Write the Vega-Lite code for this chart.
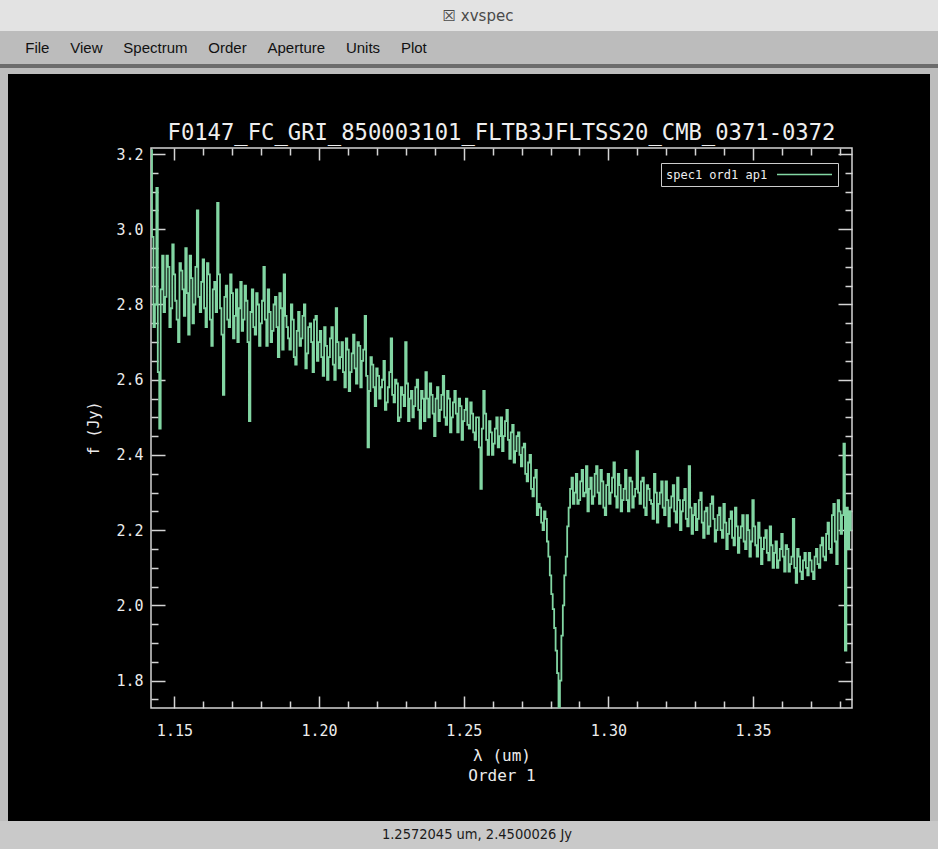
{
  "$schema": "https://vega.github.io/schema/vega-lite/v6.json",
  "background": "#000000",
  "padding": 0,
  "spacing": 0,
  "bounds": "full",
  "resolve": {"scale": {"color": "independent"}, "legend": {"color": "independent"}},
  "config": {
    "view": {"stroke": null},
    "concat": {"spacing": 0},
    "axis": {
      "domain": false,
      "grid": false,
      "tickColor": "#d4d4d4",
      "tickWidth": 1.5,
      "labelColor": "#ececec",
      "labelFont": "DejaVu Sans Mono",
      "labelFontSize": 15,
      "labelFlush": false,
      "labelOverlap": false,
      "labelBound": false,
      "titleColor": "#ececec",
      "titleFont": "DejaVu Sans Mono",
      "titleFontSize": 16,
      "titleFontWeight": "normal"
    }
  },
  "vconcat": [
    {
      "spacing": 0,
      "hconcat": [
        {"width": 18, "height": 31, "view": {"fill": "#e3e3e3"}, "data": {"values": []}, "mark": "rect"},
        {
          "width": 920, "height": 31,
          "view": {"fill": "#e3e3e3"},
          "data": {"values": [{"t": "☒ xvspec"}]},
          "mark": {"type": "text", "font": "DejaVu Sans", "fontSize": 15, "color": "#4a4a4a"},
          "encoding": {"text": {"field": "t", "type": "nominal"}}
        }
      ]
    },
    {
      "spacing": 0,
      "hconcat": [
        {
          "width": 452, "height": 33,
          "view": {"fill": "#bcbcbc"},
          "data": {"values": [{"t": "File\u00a0\u00a0\u00a0\u00a0\u00a0View\u00a0\u00a0\u00a0\u00a0\u00a0Spectrum\u00a0\u00a0\u00a0\u00a0\u00a0Order\u00a0\u00a0\u00a0\u00a0\u00a0Aperture\u00a0\u00a0\u00a0\u00a0\u00a0Units\u00a0\u00a0\u00a0\u00a0\u00a0Plot"}]},
          "mark": {"type": "text", "font": "Liberation Sans", "fontSize": 15, "color": "#111111"},
          "encoding": {"text": {"field": "t", "type": "nominal"}}
        },
        {"width": 486, "height": 33, "view": {"fill": "#bcbcbc"}, "data": {"values": []}, "mark": "rect"}
      ]
    },
    {"width": 938, "height": 4, "view": {"fill": "#6c6c6c"}, "data": {"values": []}, "mark": "rect"},
    {"width": 938, "height": 6, "view": {"fill": "#bdbdbd"}, "data": {"values": []}, "mark": "rect"},
    {
      "columns": 5,
      "bounds": "flush",
      "spacing": 0,
      "resolve": {"scale": {"color": "independent"}, "legend": {"color": "independent"}},
      "concat": [
        {"width": 8, "height": 74, "view": {"fill": "#bdbdbd"}, "data": {"values": []}, "mark": "rect"},
        {"width": 143, "height": 74, "data": {"values": []}, "mark": "rect"},
        {"width": 701, "height": 74, "data": {"values": []}, "mark": "rect"},
        {"width": 78, "height": 74, "data": {"values": []}, "mark": "rect"},
        {"width": 8, "height": 74, "view": {"fill": "#bdbdbd"}, "data": {"values": []}, "mark": "rect"},
        {"width": 8, "height": 560, "view": {"fill": "#bdbdbd"}, "data": {"values": []}, "mark": "rect"},
        {"width": 143, "height": 560, "data": {"values": []}, "mark": "rect"},
        {
          "width": 701, "height": 560,
          "view": {"stroke": "#d4d4d4", "strokeWidth": 1.5},
          "title": {
            "text": "F0147_FC_GRI_850003101_FLTB3JFLTSS20_CMB_0371-0372",
            "font": "DejaVu Sans Mono", "fontSize": 22.2, "fontWeight": "normal", "color": "#eeeeee",
            "anchor": "middle", "frame": "group", "offset": -15, "baseline": "alphabetic"
          },
          "data": {"values": [
{"w":1.142,"f":3.21},{"w":1.1425,"f":2.98},{"w":1.143,"f":2.74},{"w":1.1435,"f":2.80},{"w":1.144,"f":3.11},{"w":1.1445,"f":2.62},{"w":1.145,"f":2.47},{"w":1.1455,"f":2.84},{"w":1.146,"f":2.93},{"w":1.1465,"f":2.78},
{"w":1.147,"f":2.82},{"w":1.1475,"f":2.93},{"w":1.148,"f":2.90},{"w":1.1485,"f":2.74},{"w":1.149,"f":2.79},{"w":1.1495,"f":2.96},{"w":1.150,"f":2.88},{"w":1.1505,"f":2.81},{"w":1.151,"f":2.76},{"w":1.1515,"f":2.70},
{"w":1.152,"f":2.91},{"w":1.1525,"f":2.89},{"w":1.153,"f":2.84},{"w":1.1535,"f":2.77},{"w":1.154,"f":2.95},{"w":1.1545,"f":2.83},{"w":1.155,"f":2.72},{"w":1.1555,"f":2.93},{"w":1.156,"f":2.87},{"w":1.1565,"f":2.75},
{"w":1.157,"f":2.80},{"w":1.1575,"f":2.90},{"w":1.158,"f":3.05},{"w":1.1585,"f":2.82},{"w":1.159,"f":2.78},{"w":1.1595,"f":2.86},{"w":1.160,"f":2.92},{"w":1.1605,"f":2.79},{"w":1.161,"f":2.74},{"w":1.1615,"f":2.91},
{"w":1.162,"f":2.88},{"w":1.1625,"f":2.76},{"w":1.163,"f":2.69},{"w":1.1635,"f":2.84},{"w":1.164,"f":2.86},{"w":1.1645,"f":2.78},{"w":1.165,"f":3.07},{"w":1.1655,"f":2.88},{"w":1.166,"f":2.79},{"w":1.1665,"f":2.72},
{"w":1.167,"f":2.56},{"w":1.1675,"f":2.82},{"w":1.168,"f":2.85},{"w":1.1685,"f":2.76},{"w":1.169,"f":2.74},{"w":1.1695,"f":2.88},{"w":1.170,"f":2.83},{"w":1.1705,"f":2.71},{"w":1.171,"f":2.77},{"w":1.1715,"f":2.84},
{"w":1.172,"f":2.70},{"w":1.1725,"f":2.79},{"w":1.173,"f":2.86},{"w":1.1735,"f":2.73},{"w":1.174,"f":2.76},{"w":1.1745,"f":2.85},{"w":1.175,"f":2.81},{"w":1.1755,"f":2.70},{"w":1.176,"f":2.49},{"w":1.1765,"f":2.78},
{"w":1.177,"f":2.84},{"w":1.1775,"f":2.74},{"w":1.178,"f":2.72},{"w":1.1785,"f":2.83},{"w":1.179,"f":2.80},{"w":1.1795,"f":2.69},{"w":1.180,"f":2.75},{"w":1.1805,"f":2.81},{"w":1.181,"f":2.90},{"w":1.1815,"f":2.76},
{"w":1.182,"f":2.69},{"w":1.1825,"f":2.84},{"w":1.183,"f":2.78},{"w":1.1835,"f":2.70},{"w":1.184,"f":2.73},{"w":1.1845,"f":2.80},{"w":1.185,"f":2.82},{"w":1.1855,"f":2.74},{"w":1.186,"f":2.66},{"w":1.1865,"f":2.83},
{"w":1.187,"f":2.79},{"w":1.1875,"f":2.68},{"w":1.188,"f":2.88},{"w":1.1885,"f":2.77},{"w":1.189,"f":2.74},{"w":1.1895,"f":2.71},{"w":1.190,"f":2.68},{"w":1.1905,"f":2.80},{"w":1.191,"f":2.76},{"w":1.1915,"f":2.66},
{"w":1.192,"f":2.64},{"w":1.1925,"f":2.73},{"w":1.193,"f":2.78},{"w":1.1935,"f":2.69},{"w":1.194,"f":2.71},{"w":1.1945,"f":2.77},{"w":1.195,"f":2.80},{"w":1.1955,"f":2.63},{"w":1.196,"f":2.67},{"w":1.1965,"f":2.74},
{"w":1.197,"f":2.75},{"w":1.1975,"f":2.70},{"w":1.198,"f":2.62},{"w":1.1985,"f":2.76},{"w":1.199,"f":2.77},{"w":1.1995,"f":2.65},{"w":1.200,"f":2.70},{"w":1.2005,"f":2.73},{"w":1.201,"f":2.66},{"w":1.2015,"f":2.61},
{"w":1.202,"f":2.74},{"w":1.2025,"f":2.69},{"w":1.203,"f":2.60},{"w":1.2035,"f":2.66},{"w":1.204,"f":2.71},{"w":1.2045,"f":2.74},{"w":1.205,"f":2.64},{"w":1.2055,"f":2.60},{"w":1.206,"f":2.79},{"w":1.2065,"f":2.70},
{"w":1.207,"f":2.63},{"w":1.2075,"f":2.66},{"w":1.208,"f":2.70},{"w":1.2085,"f":2.62},{"w":1.209,"f":2.58},{"w":1.2095,"f":2.71},{"w":1.210,"f":2.68},{"w":1.2105,"f":2.57},{"w":1.211,"f":2.62},{"w":1.2115,"f":2.67},
{"w":1.212,"f":2.72},{"w":1.2125,"f":2.63},{"w":1.213,"f":2.59},{"w":1.2135,"f":2.70},{"w":1.214,"f":2.69},{"w":1.2145,"f":2.58},{"w":1.215,"f":2.65},{"w":1.2155,"f":2.68},{"w":1.216,"f":2.77},{"w":1.2165,"f":2.61},
{"w":1.217,"f":2.42},{"w":1.2175,"f":2.57},{"w":1.218,"f":2.66},{"w":1.2185,"f":2.64},{"w":1.219,"f":2.58},{"w":1.2195,"f":2.53},{"w":1.220,"f":2.63},{"w":1.2205,"f":2.61},{"w":1.221,"f":2.55},{"w":1.2215,"f":2.58},
{"w":1.222,"f":2.60},{"w":1.2225,"f":2.65},{"w":1.223,"f":2.52},{"w":1.2235,"f":2.54},{"w":1.224,"f":2.58},{"w":1.2245,"f":2.62},{"w":1.225,"f":2.71},{"w":1.2255,"f":2.56},{"w":1.226,"f":2.54},{"w":1.2265,"f":2.60},
{"w":1.227,"f":2.59},{"w":1.2275,"f":2.49},{"w":1.228,"f":2.50},{"w":1.2285,"f":2.58},{"w":1.229,"f":2.56},{"w":1.2295,"f":2.53},{"w":1.230,"f":2.70},{"w":1.2305,"f":2.59},{"w":1.231,"f":2.49},{"w":1.2315,"f":2.55},
{"w":1.232,"f":2.57},{"w":1.2325,"f":2.50},{"w":1.233,"f":2.53},{"w":1.2335,"f":2.58},{"w":1.234,"f":2.60},{"w":1.2345,"f":2.52},{"w":1.235,"f":2.47},{"w":1.2355,"f":2.57},{"w":1.236,"f":2.55},{"w":1.2365,"f":2.49},
{"w":1.237,"f":2.62},{"w":1.2375,"f":2.55},{"w":1.238,"f":2.50},{"w":1.2385,"f":2.59},{"w":1.239,"f":2.56},{"w":1.2395,"f":2.51},{"w":1.240,"f":2.45},{"w":1.2405,"f":2.55},{"w":1.241,"f":2.58},{"w":1.2415,"f":2.49},
{"w":1.242,"f":2.52},{"w":1.2425,"f":2.56},{"w":1.243,"f":2.61},{"w":1.2435,"f":2.50},{"w":1.244,"f":2.48},{"w":1.2445,"f":2.57},{"w":1.245,"f":2.55},{"w":1.2455,"f":2.46},{"w":1.246,"f":2.50},{"w":1.2465,"f":2.54},
{"w":1.247,"f":2.57},{"w":1.2475,"f":2.51},{"w":1.248,"f":2.46},{"w":1.2485,"f":2.55},{"w":1.249,"f":2.53},{"w":1.2495,"f":2.44},{"w":1.250,"f":2.49},{"w":1.2505,"f":2.52},{"w":1.251,"f":2.55},{"w":1.2515,"f":2.48},
{"w":1.252,"f":2.47},{"w":1.2525,"f":2.54},{"w":1.253,"f":2.51},{"w":1.2535,"f":2.46},{"w":1.254,"f":2.44},{"w":1.2545,"f":2.50},{"w":1.255,"f":2.50},{"w":1.2555,"f":2.42},{"w":1.256,"f":2.31},{"w":1.2565,"f":2.47},
{"w":1.257,"f":2.57},{"w":1.2575,"f":2.51},{"w":1.258,"f":2.44},{"w":1.2585,"f":2.40},{"w":1.259,"f":2.49},{"w":1.2595,"f":2.46},{"w":1.260,"f":2.40},{"w":1.2605,"f":2.43},{"w":1.261,"f":2.47},{"w":1.2615,"f":2.50},
{"w":1.262,"f":2.42},{"w":1.2625,"f":2.45},{"w":1.263,"f":2.50},{"w":1.2635,"f":2.41},{"w":1.264,"f":2.45},{"w":1.2645,"f":2.49},{"w":1.265,"f":2.52},{"w":1.2655,"f":2.44},{"w":1.266,"f":2.39},{"w":1.2665,"f":2.46},
{"w":1.267,"f":2.48},{"w":1.2675,"f":2.38},{"w":1.268,"f":2.41},{"w":1.2685,"f":2.45},{"w":1.269,"f":2.46},{"w":1.2695,"f":2.40},{"w":1.270,"f":2.37},{"w":1.2705,"f":2.42},{"w":1.271,"f":2.43},{"w":1.2715,"f":2.35},
{"w":1.272,"f":2.33},{"w":1.2725,"f":2.38},{"w":1.273,"f":2.40},{"w":1.2735,"f":2.31},{"w":1.274,"f":2.29},{"w":1.2745,"f":2.34},{"w":1.275,"f":2.36},{"w":1.2755,"f":2.24},{"w":1.276,"f":2.27},{"w":1.2765,"f":2.26},
{"w":1.277,"f":2.22},{"w":1.2775,"f":2.20},{"w":1.278,"f":2.25},{"w":1.2785,"f":2.23},{"w":1.279,"f":2.17},{"w":1.2795,"f":2.13},{"w":1.280,"f":2.08},{"w":1.2805,"f":2.03},{"w":1.281,"f":1.99},{"w":1.2815,"f":1.94},
{"w":1.282,"f":1.88},{"w":1.2825,"f":1.82},{"w":1.283,"f":1.73},{"w":1.2835,"f":1.80},{"w":1.284,"f":1.92},{"w":1.2845,"f":2.00},{"w":1.285,"f":2.08},{"w":1.2855,"f":2.13},{"w":1.286,"f":2.21},{"w":1.2865,"f":2.26},
{"w":1.287,"f":2.31},{"w":1.2875,"f":2.34},{"w":1.288,"f":2.27},{"w":1.2885,"f":2.30},{"w":1.289,"f":2.35},{"w":1.2895,"f":2.27},{"w":1.290,"f":2.28},{"w":1.2905,"f":2.33},{"w":1.291,"f":2.36},{"w":1.2915,"f":2.29},
{"w":1.292,"f":2.30},{"w":1.2925,"f":2.37},{"w":1.293,"f":2.25},{"w":1.2935,"f":2.31},{"w":1.294,"f":2.34},{"w":1.2945,"f":2.27},{"w":1.295,"f":2.29},{"w":1.2955,"f":2.35},{"w":1.296,"f":2.37},{"w":1.2965,"f":2.30},
{"w":1.297,"f":2.27},{"w":1.2975,"f":2.36},{"w":1.298,"f":2.33},{"w":1.2985,"f":2.26},{"w":1.299,"f":2.24},{"w":1.2995,"f":2.32},{"w":1.300,"f":2.35},{"w":1.3005,"f":2.27},{"w":1.301,"f":2.30},{"w":1.3015,"f":2.34},
{"w":1.302,"f":2.38},{"w":1.3025,"f":2.29},{"w":1.303,"f":2.26},{"w":1.3035,"f":2.35},{"w":1.304,"f":2.32},{"w":1.3045,"f":2.25},{"w":1.305,"f":2.28},{"w":1.3055,"f":2.31},{"w":1.306,"f":2.36},{"w":1.3065,"f":2.28},
{"w":1.307,"f":2.25},{"w":1.3075,"f":2.34},{"w":1.308,"f":2.33},{"w":1.3085,"f":2.26},{"w":1.309,"f":2.29},{"w":1.3095,"f":2.31},{"w":1.310,"f":2.41},{"w":1.3105,"f":2.30},{"w":1.311,"f":2.27},{"w":1.3115,"f":2.33},
{"w":1.312,"f":2.34},{"w":1.3125,"f":2.26},{"w":1.313,"f":2.24},{"w":1.3135,"f":2.32},{"w":1.314,"f":2.31},{"w":1.3145,"f":2.28},{"w":1.315,"f":2.27},{"w":1.3155,"f":2.23},{"w":1.316,"f":2.35},{"w":1.3165,"f":2.30},
{"w":1.317,"f":2.22},{"w":1.3175,"f":2.27},{"w":1.318,"f":2.30},{"w":1.3185,"f":2.33},{"w":1.319,"f":2.26},{"w":1.3195,"f":2.24},{"w":1.320,"f":2.33},{"w":1.3205,"f":2.28},{"w":1.321,"f":2.21},{"w":1.3215,"f":2.26},
{"w":1.322,"f":2.29},{"w":1.3225,"f":2.32},{"w":1.323,"f":2.25},{"w":1.3235,"f":2.22},{"w":1.324,"f":2.34},{"w":1.3245,"f":2.28},{"w":1.325,"f":2.20},{"w":1.3255,"f":2.25},{"w":1.326,"f":2.28},{"w":1.3265,"f":2.31},
{"w":1.327,"f":2.23},{"w":1.3275,"f":2.21},{"w":1.328,"f":2.37},{"w":1.3285,"f":2.26},{"w":1.329,"f":2.19},{"w":1.3295,"f":2.24},{"w":1.330,"f":2.27},{"w":1.3305,"f":2.20},{"w":1.331,"f":2.23},{"w":1.3315,"f":2.28},
{"w":1.332,"f":2.30},{"w":1.3325,"f":2.22},{"w":1.333,"f":2.18},{"w":1.3335,"f":2.25},{"w":1.334,"f":2.26},{"w":1.3345,"f":2.19},{"w":1.335,"f":2.21},{"w":1.3355,"f":2.27},{"w":1.336,"f":2.29},{"w":1.3365,"f":2.23},
{"w":1.337,"f":2.17},{"w":1.3375,"f":2.20},{"w":1.338,"f":2.24},{"w":1.3385,"f":2.26},{"w":1.339,"f":2.20},{"w":1.3395,"f":2.18},{"w":1.340,"f":2.27},{"w":1.3405,"f":2.22},{"w":1.341,"f":2.15},{"w":1.3415,"f":2.19},
{"w":1.342,"f":2.23},{"w":1.3425,"f":2.25},{"w":1.343,"f":2.18},{"w":1.3435,"f":2.16},{"w":1.344,"f":2.26},{"w":1.3445,"f":2.21},{"w":1.345,"f":2.14},{"w":1.3455,"f":2.18},{"w":1.346,"f":2.21},{"w":1.3465,"f":2.24},
{"w":1.347,"f":2.17},{"w":1.3475,"f":2.15},{"w":1.348,"f":2.24},{"w":1.3485,"f":2.20},{"w":1.349,"f":2.13},{"w":1.3495,"f":2.17},{"w":1.350,"f":2.28},{"w":1.3505,"f":2.21},{"w":1.351,"f":2.16},{"w":1.3515,"f":2.13},
{"w":1.352,"f":2.22},{"w":1.3525,"f":2.18},{"w":1.353,"f":2.11},{"w":1.3535,"f":2.15},{"w":1.354,"f":2.18},{"w":1.3545,"f":2.20},{"w":1.355,"f":2.14},{"w":1.3555,"f":2.12},{"w":1.356,"f":2.21},{"w":1.3565,"f":2.16},
{"w":1.357,"f":2.10},{"w":1.3575,"f":2.14},{"w":1.358,"f":2.17},{"w":1.3585,"f":2.10},{"w":1.359,"f":2.12},{"w":1.3595,"f":2.15},{"w":1.360,"f":2.19},{"w":1.3605,"f":2.13},{"w":1.361,"f":2.09},{"w":1.3615,"f":2.16},
{"w":1.362,"f":2.15},{"w":1.3625,"f":2.09},{"w":1.363,"f":2.11},{"w":1.3635,"f":2.13},{"w":1.364,"f":2.23},{"w":1.3645,"f":2.10},{"w":1.365,"f":2.06},{"w":1.3655,"f":2.15},{"w":1.366,"f":2.13},{"w":1.3665,"f":2.09},
{"w":1.367,"f":2.07},{"w":1.3675,"f":2.12},{"w":1.368,"f":2.14},{"w":1.3685,"f":2.10},{"w":1.369,"f":2.08},{"w":1.3695,"f":2.14},{"w":1.370,"f":2.12},{"w":1.3705,"f":2.09},{"w":1.371,"f":2.07},{"w":1.3715,"f":2.13},
{"w":1.372,"f":2.15},{"w":1.3725,"f":2.11},{"w":1.373,"f":2.10},{"w":1.3735,"f":2.16},{"w":1.374,"f":2.18},{"w":1.3745,"f":2.13},{"w":1.375,"f":2.12},{"w":1.3755,"f":2.19},{"w":1.376,"f":2.22},{"w":1.3765,"f":2.15},
{"w":1.377,"f":2.14},{"w":1.3775,"f":2.24},{"w":1.378,"f":2.27},{"w":1.3785,"f":2.17},{"w":1.379,"f":2.11},{"w":1.3795,"f":2.28},{"w":1.380,"f":2.25},{"w":1.3805,"f":2.19},{"w":1.381,"f":2.24},{"w":1.3815,"f":2.43},
{"w":1.382,"f":1.88},{"w":1.3825,"f":2.26},{"w":1.383,"f":2.15},{"w":1.3835,"f":2.25},{"w":1.384,"f":2.20}
          ]},
          "layer": [
            {
              "mark": {"type": "line", "interpolate": "step", "strokeWidth": 1.8, "clip": true},
              "encoding": {
                "x": {"field": "w", "type": "quantitative",
                  "scale": {"domain": [1.1419, 1.3842], "nice": false, "zero": false},
                  "axis": {"orient": "bottom", "values": [1.15, 1.2, 1.25, 1.3, 1.35], "format": ".2f",
                    "tickSize": -12, "labelPadding": 27,
                    "title": ["λ (um)", "Order 1"], "titlePadding": 9, "titleLineHeight": 20}},
                "y": {"field": "f", "type": "quantitative",
                  "scale": {"domain": [1.7274, 3.216], "nice": false, "zero": false},
                  "axis": {"orient": "left", "values": [1.8, 2.0, 2.2, 2.4, 2.6, 2.8, 3.0, 3.2], "format": ".1f",
                    "tickSize": -14, "labelPadding": 22,
                    "title": "f (Jy)", "titlePadding": 14, "titleFontSize": 15}},
                "color": {"datum": "spec1 ord1 ap1", "type": "nominal",
                  "scale": {"range": ["#82d6a3"]},
                  "legend": {"orient": "none", "legendX": 510, "legendY": 15,
                    "title": "spec1 ord1 ap1", "titleOrient": "left", "titleFont": "DejaVu Sans Mono",
                    "titleFontSize": 12, "titleFontWeight": "normal", "titleColor": "#eeeeee", "titlePadding": 8,
                    "labelExpr": "''", "labelOffset": 0, "clipHeight": 13,
                    "symbolType": "stroke", "symbolSize": 3025, "symbolStrokeWidth": 1.5,
                    "strokeColor": "#cccccc", "fillColor": "#000000", "padding": 5}}
              }
            },
            {
              "mark": {"type": "point", "opacity": 0},
              "encoding": {
                "x": {"field": "w", "type": "quantitative",
                  "scale": {"domain": [1.1419, 1.3842], "nice": false, "zero": false},
                  "axis": {"orient": "bottom", "values": [1.16,1.17,1.18,1.19,1.21,1.22,1.23,1.24,1.26,1.27,1.28,1.29,1.31,1.32,1.33,1.34,1.36,1.37,1.38],
                    "labels": false, "tickSize": -7, "title": null}},
                "y": {"field": "f", "type": "quantitative",
                  "scale": {"domain": [1.7274, 3.216], "nice": false, "zero": false},
                  "axis": {"orient": "left", "values": [1.75,1.85,1.9,1.95,2.05,2.1,2.15,2.25,2.3,2.35,2.45,2.5,2.55,2.65,2.7,2.75,2.85,2.9,2.95,3.05,3.1,3.15],
                    "labels": false, "tickSize": -7, "title": null}}
              }
            },
            {
              "mark": {"type": "point", "opacity": 0},
              "encoding": {
                "x": {"field": "w", "type": "quantitative",
                  "scale": {"domain": [1.1419, 1.3842], "nice": false, "zero": false},
                  "axis": {"orient": "top", "values": [1.15, 1.2, 1.25, 1.3, 1.35],
                    "labels": false, "tickSize": -12, "title": null}},
                "y": {"field": "f", "type": "quantitative",
                  "scale": {"domain": [1.7274, 3.216], "nice": false, "zero": false},
                  "axis": {"orient": "right", "values": [1.8, 2.0, 2.2, 2.4, 2.6, 2.8, 3.0, 3.2],
                    "labels": false, "tickSize": -14, "title": null}}
              }
            },
            {
              "mark": {"type": "point", "opacity": 0},
              "encoding": {
                "x": {"field": "w", "type": "quantitative",
                  "scale": {"domain": [1.1419, 1.3842], "nice": false, "zero": false},
                  "axis": {"orient": "top", "values": [1.16,1.17,1.18,1.19,1.21,1.22,1.23,1.24,1.26,1.27,1.28,1.29,1.31,1.32,1.33,1.34,1.36,1.37,1.38],
                    "labels": false, "tickSize": -7, "title": null}},
                "y": {"field": "f", "type": "quantitative",
                  "scale": {"domain": [1.7274, 3.216], "nice": false, "zero": false},
                  "axis": {"orient": "right", "values": [1.75,1.85,1.9,1.95,2.05,2.1,2.15,2.25,2.3,2.35,2.45,2.5,2.55,2.65,2.7,2.75,2.85,2.9,2.95,3.05,3.1,3.15],
                    "labels": false, "tickSize": -7, "title": null}}
              }
            }
          ],
          "resolve": {"axis": {"x": "independent", "y": "independent"}}
        },
        {"width": 78, "height": 560, "data": {"values": []}, "mark": "rect"},
        {"width": 8, "height": 560, "view": {"fill": "#bdbdbd"}, "data": {"values": []}, "mark": "rect"},
        {"width": 8, "height": 113, "view": {"fill": "#bdbdbd"}, "data": {"values": []}, "mark": "rect"},
        {"width": 143, "height": 113, "data": {"values": []}, "mark": "rect"},
        {"width": 701, "height": 113, "data": {"values": []}, "mark": "rect"},
        {"width": 78, "height": 113, "data": {"values": []}, "mark": "rect"},
        {"width": 8, "height": 113, "view": {"fill": "#bdbdbd"}, "data": {"values": []}, "mark": "rect"}
      ]
    },
    {
      "spacing": 0,
      "hconcat": [
        {"width": 16, "height": 28, "view": {"fill": "#c9c9c9"}, "data": {"values": []}, "mark": "rect"},
        {
          "width": 922, "height": 28,
          "view": {"fill": "#c9c9c9"},
          "data": {"values": [{"t": "1.2572045 um, 2.4500026 Jy"}]},
          "mark": {"type": "text", "font": "DejaVu Sans Condensed, Liberation Sans Narrow, DejaVu Sans", "fontSize": 14.5, "color": "#1a1a1a"},
          "encoding": {"text": {"field": "t", "type": "nominal"}}
        }
      ]
    }
  ]
}
